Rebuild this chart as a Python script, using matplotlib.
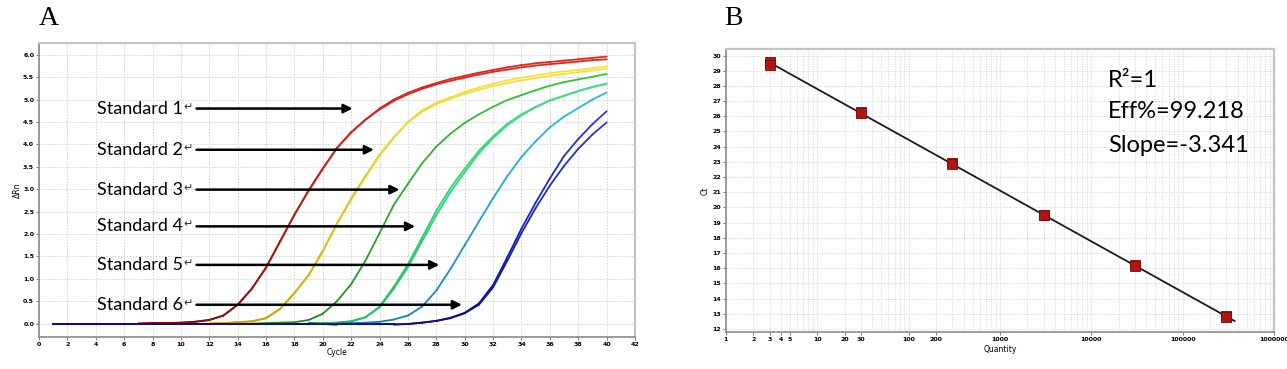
import matplotlib
matplotlib.use("Agg")
import matplotlib.pyplot as plt
import numpy as np
from matplotlib.collections import LineCollection
from matplotlib.colors import to_rgb
from matplotlib.ticker import FixedLocator, LogLocator, NullFormatter

# ---- panel A: amplification curves (delta Rn per cycle) ----
cycles = np.arange(1, 41)

std1 = [0.0, 0.0, 0.0, 0.0, 0.0, 0.0, 0.0, 0.01, 0.01, 0.02,
        0.04, 0.08, 0.18, 0.42, 0.78, 1.25, 1.84, 2.43, 2.97, 3.46,
        3.92, 4.27, 4.55, 4.80, 5.00, 5.15, 5.27, 5.37, 5.46, 5.53,
        5.60, 5.66, 5.72, 5.77, 5.81, 5.84, 5.87, 5.90, 5.93, 5.96]
std1_rep = [0.0, 0.0, 0.0, 0.0, 0.0, 0.0, 0.0, 0.01, 0.01, 0.02,
            0.04, 0.08, 0.18, 0.42, 0.78, 1.25, 1.84, 2.43, 2.97, 3.46,
            3.92, 4.27, 4.55, 4.78, 4.97, 5.12, 5.24, 5.34, 5.42, 5.49,
            5.56, 5.62, 5.67, 5.72, 5.76, 5.79, 5.82, 5.85, 5.88, 5.90]
std2 = [0.0, 0.0, 0.0, 0.0, 0.0, 0.0, 0.0, 0.0, 0.0, 0.0,
        0.0, 0.0, 0.01, 0.03, 0.05, 0.12, 0.33, 0.68, 1.08, 1.62,
        2.23, 2.77, 3.27, 3.75, 4.15, 4.50, 4.76, 4.93, 5.05, 5.17,
        5.27, 5.35, 5.43, 5.49, 5.54, 5.59, 5.63, 5.66, 5.70, 5.74]
std2_rep = [0.0, 0.0, 0.0, 0.0, 0.0, 0.0, 0.0, 0.0, 0.0, 0.0,
            0.0, 0.0, 0.01, 0.03, 0.05, 0.12, 0.33, 0.68, 1.08, 1.62,
            2.23, 2.80, 3.30, 3.77, 4.16, 4.49, 4.73, 4.90, 5.02, 5.13,
            5.22, 5.30, 5.37, 5.43, 5.48, 5.53, 5.57, 5.61, 5.65, 5.69]
std3 = [0.0, 0.0, 0.0, 0.0, 0.0, 0.0, 0.0, 0.0, 0.0, 0.0,
        0.0, 0.0, 0.0, 0.0, 0.0, 0.01, 0.02, 0.03, 0.08, 0.22,
        0.50, 0.88, 1.40, 2.02, 2.65, 3.12, 3.58, 3.95, 4.24, 4.48,
        4.67, 4.84, 4.99, 5.10, 5.21, 5.31, 5.39, 5.45, 5.51, 5.57]
std4 = [0.0, 0.0, 0.0, 0.0, 0.0, 0.0, 0.0, 0.0, 0.0, 0.0,
        0.0, 0.0, 0.0, 0.0, 0.0, 0.0, 0.0, 0.0, 0.0, 0.01,
        0.02, 0.05, 0.14, 0.36, 0.78, 1.26, 1.84, 2.42, 2.94, 3.38,
        3.80, 4.14, 4.43, 4.65, 4.83, 4.98, 5.08, 5.19, 5.28, 5.35]
std4_rep = [0.0, 0.0, 0.0, 0.0, 0.0, 0.0, 0.0, 0.0, 0.0, 0.0,
            0.0, 0.0, 0.0, 0.0, 0.0, 0.0, 0.0, 0.0, 0.0, 0.01,
            0.02, 0.05, 0.14, 0.38, 0.82, 1.32, 1.92, 2.52, 3.03, 3.46,
            3.86, 4.18, 4.46, 4.67, 4.84, 4.98, 5.09, 5.19, 5.28, 5.36]
std5 = [0.0, 0.0, 0.0, 0.0, 0.0, 0.0, 0.0, 0.0, 0.0, 0.0,
        0.0, 0.0, 0.0, 0.0, 0.0, 0.0, 0.0, 0.0, 0.0, 0.0,
        0.0, 0.01, 0.02, 0.04, 0.09, 0.18, 0.38, 0.74, 1.22, 1.75,
        2.28, 2.80, 3.29, 3.72, 4.07, 4.38, 4.62, 4.81, 5.00, 5.16]
std6 = [0.0, 0.0, 0.0, 0.0, 0.0, 0.0, 0.0, 0.0, 0.0, 0.0,
        0.0, 0.0, 0.0, 0.0, 0.0, 0.0, 0.0, 0.0, 0.0, -0.01,
        -0.02, -0.02, -0.02, -0.02, -0.02, -0.01, 0.02, 0.06, 0.13, 0.24,
        0.45, 0.86, 1.48, 2.12, 2.70, 3.24, 3.74, 4.12, 4.45, 4.74]
std6_rep = [0.0, 0.0, 0.0, 0.0, 0.0, 0.0, 0.0, 0.0, 0.0, 0.0,
            0.0, 0.0, 0.0, 0.0, 0.0, 0.0, 0.0, 0.0, 0.0, -0.01,
            -0.02, -0.02, -0.02, -0.02, -0.02, -0.01, 0.02, 0.06, 0.12, 0.23,
            0.42, 0.81, 1.40, 2.02, 2.58, 3.08, 3.52, 3.90, 4.22, 4.49]

labels = ["Standard 1", "Standard 2", "Standard 3",
          "Standard 4", "Standard 5", "Standard 6"]
label_y = [4.80, 3.88, 2.99, 2.17, 1.31, 0.42]
arrow_tip = [22.1, 23.6, 25.4, 26.5, 28.2, 29.8]

# (dark, bright) per standard
colors = [("#8c0a0a", "#e2261c"), ("#c9a200", "#f4e23c"),
          ("#1c8a1c", "#34c434"), ("#1fbf5a", "#3fe08a"),
          ("#0f7fae", "#22c2ea"), ("#0a0a8c", "#2a40e0")]

curves = [(std1, 0), (std1_rep, 0), (std2, 1), (std2_rep, 1), (std3, 2),
          (std4, 3), (std4_rep, 3), (std5, 4), (std6, 5), (std6_rep, 5)]

# ---- panel B: standard curve ----
quantity = [3, 3, 30, 30, 300, 300, 3000, 3000, 30000, 30000, 300000, 300000]
ct = [29.6, 29.4, 26.3, 26.2, 22.9, 22.85, 19.5, 19.48, 16.2, 16.15, 12.85, 12.8]
xtick_vals = [1, 2, 3, 4, 5, 10, 20, 30, 100, 200, 1000, 10000, 100000, 1000000]

fig = plt.figure(figsize=(12.87, 3.69), dpi=100)
axA = fig.add_axes([0.0303, 0.0867, 0.4631, 0.7976])
axB = fig.add_axes([0.5641, 0.1003, 0.4258, 0.7677])


def style_frame(ax):
    for s in ["top", "right"]:
        ax.spines[s].set_color("#c4c4c4")
        ax.spines[s].set_linewidth(1.6)
    for s in ["left", "bottom"]:
        ax.spines[s].set_color("#8a8a8a")
        ax.spines[s].set_linewidth(1.2)
    ax.tick_params(length=2, width=0.6, color="#666666", pad=1.5)


# panel A
for vals, k in curves:
    y = np.array(vals)
    pts = np.column_stack([cycles, y])
    segs = np.stack([pts[:-1], pts[1:]], axis=1)
    d, b = np.array(to_rgb(colors[k][0])), np.array(to_rgb(colors[k][1]))
    f = np.clip((y[:-1] + y[1:]) / 2 / 5.5, 0, 1)[:, None] ** 0.8
    lc = LineCollection(segs, colors=d * (1 - f) + b * f, linewidths=1.3,
                        capstyle="round", joinstyle="round")
    axA.add_collection(lc)

axA.set_xlim(0, 42)
axA.set_ylim(-0.3, 6.27)
axA.set_xticks(np.arange(0, 43, 2))
axA.set_yticks(np.arange(0, 6.01, 0.5))
axA.set_yticklabels(["%.1f" % v for v in np.arange(0, 6.01, 0.5)])
for lab in axA.get_xticklabels() + axA.get_yticklabels():
    lab.set_fontsize(4.5)
    lab.set_fontweight("bold")
axA.grid(True, linestyle=(0, (1.5, 1.5)), color="#d2d2d2", linewidth=0.7)
axA.set_axisbelow(True)
axA.set_xlabel("Cycle", fontsize=5.5, labelpad=1)
axA.set_ylabel("\u0394Rn", fontsize=5.5, labelpad=1)
style_frame(axA)

for lab, yv, tip in zip(labels, label_y, arrow_tip):
    t = axA.text(4.1, yv, lab, fontsize=13, va="center", ha="left",
                 family=["Lato", "DejaVu Sans"], color="black")
    axA.annotate("\u21b5", xy=(1.0, 0.62), xycoords=t, fontsize=8,
                 va="center", ha="left", family="DejaVu Sans", color="#333333")
    axA.annotate("", xy=(tip, yv), xytext=(11.1, yv),
                 arrowprops=dict(arrowstyle="-|>", color="black", lw=1.8,
                                 mutation_scale=13, shrinkA=0, shrinkB=0))

# panel B
axB.set_xscale("log")
axB.set_xlim(1, 1000000)
axB.set_ylim(11.8, 30.45)
fit = np.polyfit(np.log10(quantity), ct, 1)
xl = np.array([3, 370000])
axB.plot(xl, np.polyval(fit, np.log10(xl)), color="#1a1a1a", lw=1.3, zorder=3)
axB.plot(quantity, ct, "s", ms=6.5, color="#b01414", mec="#7a0a0a", mew=0.6,
         zorder=4)
axB.xaxis.set_major_locator(FixedLocator(xtick_vals))
axB.set_xticklabels([str(v) for v in xtick_vals])
axB.xaxis.set_minor_locator(LogLocator(base=10, subs=np.arange(2, 10)))
axB.xaxis.set_minor_formatter(NullFormatter())
axB.set_yticks(np.arange(12, 31, 1))
for lab in axB.get_xticklabels() + axB.get_yticklabels():
    lab.set_fontsize(4.5)
    lab.set_fontweight("bold")
axB.tick_params(axis="x", which="minor", length=0)
axB.grid(True, which="both", axis="x", linestyle=(0, (1.5, 1.5)),
         color="#d6d6d6", linewidth=0.6)
axB.grid(True, which="major", axis="y", linestyle=(0, (1.5, 1.5)),
         color="#d6d6d6", linewidth=0.6)
axB.set_axisbelow(True)
axB.set_xlabel("Quantity", fontsize=5.5, labelpad=2)
axB.set_ylabel("Ct", fontsize=5.5, labelpad=2)
style_frame(axB)

stats = ["R\u00b2=1", "Eff%=99.218", "Slope=-3.341"]
for s, yf in zip(stats, [0.889, 0.777, 0.66]):
    axB.text(0.697, yf, s, transform=axB.transAxes, fontsize=17,
             va="center", ha="left", family=["Lato", "DejaVu Sans"])

fig.text(0.030, 0.95, "A", fontsize=20, family="Liberation Serif",
         va="center", ha="left")
fig.text(0.5625, 0.95, "B", fontsize=20, family="Liberation Serif",
         va="center", ha="left")

fig.savefig("out.png", dpi=100, facecolor="white")
